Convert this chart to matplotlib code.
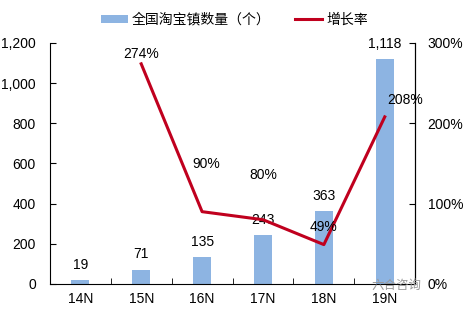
import matplotlib.pyplot as plt
import numpy as np

plt.rcParams['font.family'] = ['Liberation Sans', 'Noto Sans CJK SC', 'DejaVu Sans']

years = ['14N', '15N', '16N', '17N', '18N', '19N']
towns = [19, 71, 135, 243, 363, 1118]
growth = [None, 274, 90, 80, 49, 208]
bar_labels = ['19', '71', '135', '243', '363', '1,118']
# label offsets (pixels) for growth labels
growth_offsets = [None, (0, 10), (4, 48), (0, 45), (0, 18), (20, 17)]

fig = plt.figure(figsize=(4.66, 3.09), dpi=100)
ax = fig.add_axes([0.107, 0.081, 0.784, 0.78])
ax2 = ax.twinx()

x = np.arange(len(years))
bar_color = '#8DB4E2'
line_color = '#C0001E'

ax.bar(x, towns, width=0.3, color=bar_color, label='全国淘宝镇数量（个）', zorder=2)
for xi, v, s in zip(x, towns, bar_labels):
    ax.annotate(s, (xi, v), xytext=(0, 6), textcoords='offset points',
                ha='center', va='bottom', fontsize=10)

gx = [xi for xi, g in zip(x, growth) if g is not None]
gy = [g for g in growth if g is not None]
ax2.plot(gx, gy, color=line_color, lw=2.2, label='增长率', zorder=3)
for xi, g, off in zip(x, growth, growth_offsets):
    if g is None:
        continue
    ax2.annotate(f'{g}%', (xi, g), xytext=(off[0] * 0.72, off[1] * 0.72),
                 textcoords='offset points', ha='center', va='center', fontsize=10)

ax.set_xlim(-0.5, 5.5)
ax.set_ylim(0, 1200)
ax.set_yticks(range(0, 1201, 200))
ax.set_yticklabels([f'{v:,}' for v in range(0, 1201, 200)], fontsize=10)
ax2.set_ylim(0, 300)
ax2.set_yticks([0, 100, 200, 300])
ax2.set_yticklabels(['0%', '100%', '200%', '300%'], fontsize=10)

ax.set_xticks(x)
ax.set_xticklabels(years, fontsize=10)
ax.set_xticks(np.arange(-0.5, 6, 1), minor=True)
ax.tick_params(axis='x', which='major', length=0, pad=6)
ax.tick_params(axis='x', which='minor', direction='in', length=4)
ax.tick_params(axis='y', direction='in', length=4, pad=10)
ax2.tick_params(axis='y', direction='in', length=4, pad=9)

for a in (ax, ax2):
    a.spines['top'].set_visible(False)
ax2.spines['bottom'].set_visible(False)
ax2.spines['left'].set_visible(False)

h1, l1 = ax.get_legend_handles_labels()
h2, l2 = ax2.get_legend_handles_labels()
fig.legend(h1 + h2, l1 + l2, loc='upper center', bbox_to_anchor=(0.503, 1.0),
           ncol=2, frameon=False, fontsize=10, handlelength=1.9,
           handleheight=0.5, handletextpad=0.3, columnspacing=1.8)

fig.text(0.905, 0.075, '六合咨询', fontsize=9, color='#999999', ha='right', va='center')

fig.savefig('out.png', dpi=100)
